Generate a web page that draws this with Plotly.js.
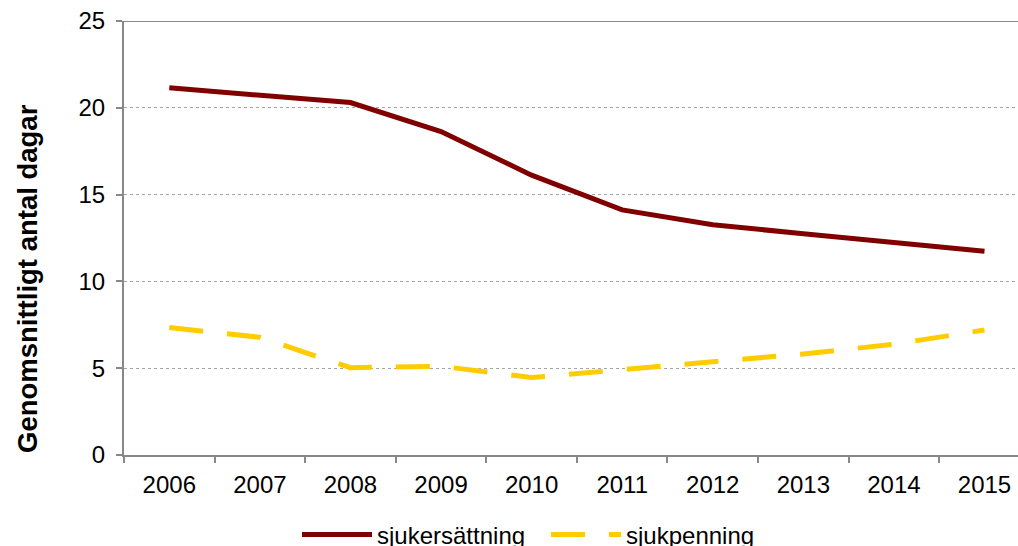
<!DOCTYPE html>
<html>
<head>
<meta charset="utf-8">
<script src="https://cdn.plot.ly/plotly-3.0.1.min.js"></script>
<style>
  html, body { margin: 0; padding: 0; background: #ffffff; }
  #chart { width: 1018px; height: 546px; }
</style>
</head>
<body>
<div id="chart"></div>
<script>
const years = ['2006', '2007', '2008', '2009', '2010', '2011', '2012', '2013', '2014', '2015'];
const sjukersattning = [21.15, 20.72, 20.3, 18.63, 16.12, 14.12, 13.26, 12.75, 12.28, 11.74];
const sjukpenning = [7.34, 6.78, 5.03, 5.11, 4.46, 4.9, 5.36, 5.82, 6.38, 7.2];
const yTitle = 'Genomsnittligt antal dagar';

const font = 'Liberation Sans, Arial, sans-serif';

const traces = [
  {
    type: 'scatter', mode: 'lines', name: 'sjukersättning',
    x: years, y: sjukersattning,
    line: { color: '#800000', width: 5 }
  },
  {
    type: 'scatter', mode: 'lines', name: 'sjukpenning',
    x: years, y: sjukpenning,
    line: { color: '#FFCC00', width: 5, dash: '34px,24px' }
  }
];

const layout = {
  width: 1018, height: 546,
  margin: { l: 124, r: 0, t: 21, b: 91 },
  paper_bgcolor: '#ffffff', plot_bgcolor: '#ffffff',
  font: { family: font, size: 24, color: '#000000' },
  showlegend: true,
  legend: {
    orientation: 'h',
    xref: 'container', x: 297 / 1018, xanchor: 'left',
    yref: 'container', y: 11 / 546, yanchor: 'middle',
    font: { family: font, size: 24, color: '#000000' },
    itemwidth: 70, entrywidth: 164, entrywidthmode: 'pixels', itemclick: false
  },
  xaxis: {
    type: 'category', range: [-0.5, 9.37],
    showline: true, linecolor: '#888888', linewidth: 2,
    ticks: 'outside', tickson: 'boundaries', ticklen: 6, tickcolor: '#888888', tickwidth: 2,
    showgrid: false, zeroline: false,
    ticklabelstandoff: 7,
    tickfont: { family: font, size: 24, color: '#000000' }
  },
  yaxis: {
    range: [0, 25], dtick: 5, tick0: 0,
    showline: true, linecolor: '#888888', linewidth: 2,
    ticks: 'outside', ticklen: 6, tickcolor: '#888888', tickwidth: 2,
    showgrid: true, gridcolor: '#a6a6a6', griddash: 'dot', gridwidth: 1,
    zeroline: false,
    ticklabelstandoff: 6,
    tickfont: { family: font, size: 24, color: '#000000' }
  },
  annotations: [
    { text: '<b>' + yTitle + '</b>', textangle: -90, showarrow: false,
      xref: 'paper', x: (27 - 124) / 894, xanchor: 'center',
      yref: 'paper', y: (455 - 279) / 434, yanchor: 'middle',
      font: { family: font, size: 27.5, color: '#000000' } }
  ],
  shapes: [
    { type: 'line', xref: 'paper', yref: 'y', x0: 0, x1: 1, y0: 25, y1: 25,
      line: { color: '#888888', width: 2 } }
  ]
};

Plotly.newPlot('chart', traces, layout, { displayModeBar: false, staticPlot: true });
</script>
</body>
</html>
